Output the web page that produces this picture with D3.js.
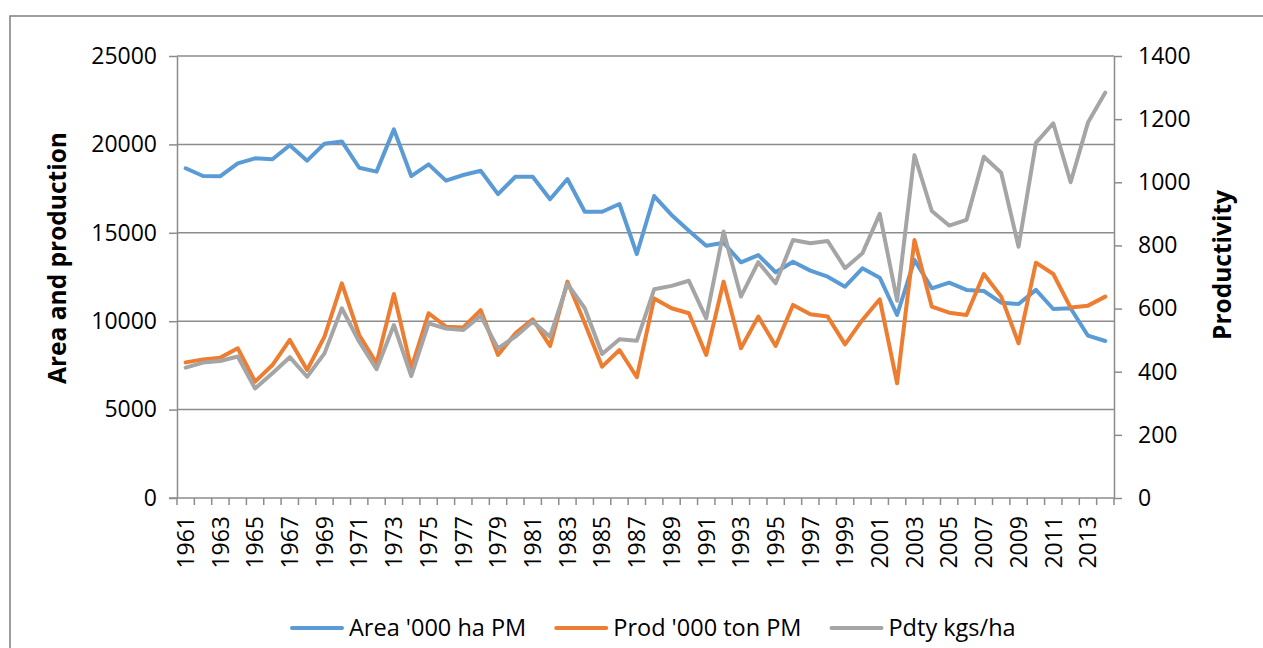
<!DOCTYPE html>
<html>
<head>
<meta charset="utf-8">
<script src="https://cdn.jsdelivr.net/npm/d3@7"></script>
<style>
  body { margin: 0; background: #fff; }
  svg { display: block; }
  svg text { font-family: "Open Sans", sans-serif; }
  .tick text { font-size: 23px; fill: #000; }
  .axis path, .axis line { stroke: #8c8c8c; stroke-width: 1.5px; }
  .grid line { stroke: #8c8c8c; stroke-width: 1.5px; }
  .title { font-size: 24.5px; font-weight: bold; fill: #000; }
  .legend text { font-size: 23.5px; fill: #000; }
</style>
</head>
<body>
<svg width="1263" height="648"></svg>
<script>
// years on the category axis
var years = d3.range(1961, 2015);

// Area '000 ha PM (left axis)
var area = [18650, 18210, 18200, 18930, 19210, 19160, 19950, 19080, 20040, 20170,
            18680, 18460, 20850, 18210, 18870, 17950, 18270, 18510, 17190, 18170,
            18170, 16900, 18040, 16190, 16190, 16630, 13800, 17080, 16010, 15120,
            14270, 14440, 13330, 13740, 12770, 13360, 12860, 12520, 11950, 12990,
            12460, 10350, 13460, 11860, 12180, 11770, 11710, 11050, 10970, 11770,
            10690, 10730, 9180, 8880];

// Prod '000 ton PM (left axis)
var prod = [7670, 7840, 7940, 8470, 6580, 7520, 8940, 7240, 9130, 12140,
            9220, 7620, 11540, 7330, 10450, 9690, 9650, 10630, 8090, 9310,
            10110, 8600, 12240, 9880, 7430, 8370, 6830, 11290, 10730, 10450,
            8090, 12240, 8470, 10260, 8600, 10920, 10390, 10260, 8690, 10070,
            11240, 6490, 14590, 10820, 10480, 10350, 12670, 11390, 8750, 13310,
            12670, 10770, 10880, 11390];

// Pdty kgs/ha (right axis)
var pdty = [413, 429, 434, 448, 347, 395, 446, 384, 458, 601,
            495, 408, 548, 386, 553, 537, 532, 577, 474, 511,
            559, 511, 678, 601, 456, 503, 498, 661, 672, 688,
            569, 844, 638, 747, 680, 817, 807, 814, 728, 775,
            900, 625, 1086, 909, 863, 881, 1081, 1030, 796, 1125,
            1187, 1000, 1189, 1284];

var leftTicks = [0, 5000, 10000, 15000, 20000, 25000];
var rightTicks = [0, 200, 400, 600, 800, 1000, 1200, 1400];
var seriesNames = ["Area '000 ha PM", "Prod '000 ton PM", "Pdty kgs/ha"];
var colors = ["#5b9bd5", "#ed7d31", "#a5a5a5"];

var svg = d3.select("svg");

// outer chart frame (runs off the right and bottom edges)
svg.append("rect")
    .attr("x", 10).attr("y", 16)
    .attr("width", 1300).attr("height", 700)
    .attr("fill", "none")
    .attr("stroke", "#7f7f7f")
    .attr("stroke-width", 1.5);

var plot = { left: 177, right: 1114, top: 56, bottom: 498 };

var x = d3.scaleBand().domain(years).range([plot.left, plot.right]).padding(0);
var yL = d3.scaleLinear().domain([0, 25000]).range([plot.bottom, plot.top]);
var yR = d3.scaleLinear().domain([0, 1400]).range([plot.bottom, plot.top]);

// gridlines
svg.append("g").attr("class", "grid")
    .selectAll("line")
    .data(leftTicks.slice(1))
    .enter().append("line")
    .attr("x1", plot.left).attr("x2", plot.right)
    .attr("y1", function(d) { return yL(d); })
    .attr("y2", function(d) { return yL(d); });

// left axis
svg.append("g").attr("class", "axis")
    .attr("transform", "translate(" + plot.left + ",0)")
    .call(d3.axisLeft(yL).tickValues(leftTicks).tickFormat(d3.format("d"))
        .tickSize(8).tickPadding(12).tickSizeOuter(0));

// right axis
svg.append("g").attr("class", "axis")
    .attr("transform", "translate(" + plot.right + ",0)")
    .call(d3.axisRight(yR).tickValues(rightTicks).tickFormat(d3.format("d"))
        .tickSize(8).tickPadding(16).tickSizeOuter(0));

// bottom axis: labels every other year, ticks between categories
var xAxis = svg.append("g").attr("class", "axis")
    .attr("transform", "translate(0," + plot.bottom + ")")
    .call(d3.axisBottom(x)
        .tickValues(years.filter(function(d) { return (d - 1961) % 2 === 0; }))
        .tickSize(0).tickSizeOuter(0));
xAxis.select(".domain").attr("d", "M" + (plot.left - 8) + ",0H" + plot.right);
xAxis.selectAll(".tick text")
    .attr("transform", "rotate(-90)")
    .attr("x", -18).attr("y", 0)
    .attr("dy", "0.36em")
    .style("text-anchor", "end");
xAxis.append("g").selectAll("line")
    .data(years.concat([null]))
    .enter().append("line")
    .attr("x1", function(d) { return d === null ? plot.right : x(d); })
    .attr("x2", function(d) { return d === null ? plot.right : x(d); })
    .attr("y1", 0).attr("y2", 7);

// axis titles
svg.append("text").attr("class", "title")
    .attr("transform", "translate(66,258) rotate(-90)")
    .attr("text-anchor", "middle")
    .text("Area and production");
svg.append("text").attr("class", "title")
    .attr("transform", "translate(1231,265) rotate(-90)")
    .attr("text-anchor", "middle")
    .text("Productivity");

// lines
var cx = function(d, i) { return x(years[i]) + x.bandwidth() / 2; };
var lineL = d3.line().x(cx).y(function(d) { return yL(d); });
var lineR = d3.line().x(cx).y(function(d) { return yR(d); });

var series = [
    { values: area, line: lineL },
    { values: prod, line: lineL },
    { values: pdty, line: lineR }
];
svg.append("g").selectAll("path")
    .data(series)
    .enter().append("path")
    .attr("d", function(d) { return d.line(d.values); })
    .attr("fill", "none")
    .attr("stroke", function(d, i) { return colors[i]; })
    .attr("stroke-width", 4)
    .attr("stroke-linejoin", "round")
    .attr("stroke-linecap", "round");

// legend
var legend = svg.append("g").attr("class", "legend");
var lx = 292, ly = 628;
seriesNames.forEach(function(name, i) {
    var g = legend.append("g").attr("transform", "translate(" + lx + "," + ly + ")");
    g.append("line")
        .attr("x1", 0).attr("x2", 50)
        .attr("stroke", colors[i]).attr("stroke-width", 4)
        .attr("stroke-linecap", "round");
    var t = g.append("text").attr("x", 57).attr("dy", "0.35em").text(name);
    lx += 57 + t.node().getComputedTextLength() + 30;
});
</script>
</body>
</html>
